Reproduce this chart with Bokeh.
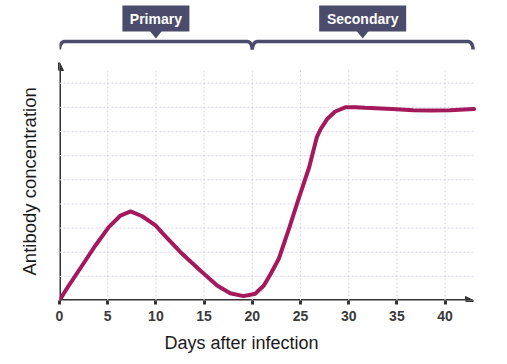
import numpy as np
from bokeh.plotting import figure
from bokeh.models import Range1d, LinearAxis, FixedTicker, Arrow, NormalHead, Grid, Title
from bokeh.embed import file_html
from bokeh.resources import INLINE
from bokeh.core.properties import value

# ---- data ----
days = [0, 0.96, 2.35, 3.73, 5.11, 6.33, 7.37, 8.58, 9.96, 10.8, 12.55, 14.6,
        16.35, 17.7, 19.1, 20.3, 21.2, 21.9, 22.75, 23.8, 24.8, 25.9, 26.7,
        27.1, 27.8, 28.6, 29.7, 30.7, 31.7, 34.5, 36.7, 38.5, 40.5, 43.0]
antibody = [0, 0.62, 1.45, 2.28, 3.04, 3.52, 3.69, 3.49, 3.11, 2.74, 2.0, 1.24,
            0.62, 0.30, 0.18, 0.28, 0.62, 1.1, 1.73, 2.97, 4.21, 5.52, 6.77,
            7.11, 7.53, 7.83, 8.01, 8.01, 7.98, 7.93, 7.88, 7.87, 7.88, 7.93]
x_ticks = [0, 5, 10, 15, 20, 25, 30, 35, 40]
y_grid = [1, 2, 3, 4, 5, 6, 7, 8, 9]
phase_names = ["Primary", "Secondary"]
phase_start = [0, 20]
phase_end = [20, 42.9]
x_title = "Days after infection"
y_title = "Antibody concentration"

# ---- layout constants (pixels) ----
W, H = 507, 364
BL = 59          # frame left
BASE = 300       # frame bottom (x axis)
PX_DAY = 9.64
PX_UNIT = 24.14
x_end = (W - BL) / PX_DAY
y_end = BASE / PX_UNIT


def ypx(py):
    """pixel row -> data y"""
    return (BASE - py) / PX_UNIT


def xpx(px):
    """pixel column -> data x"""
    return (px - BL) / PX_DAY


INK = "#333333"
SLATE = "#4b4b6b"
CURVE = "#a3195b"
GRID = "#d8d5e6"
FONT = "Liberation Sans"

p = figure(width=W, height=H, x_range=Range1d(0, x_end), y_range=Range1d(0, y_end),
           output_backend="svg", toolbar_location=None,
           x_axis_location=None, y_axis_location=None,
           min_border_left=BL, min_border_right=0, min_border_top=0,
           min_border_bottom=H - BASE)
p.outline_line_color = None
p.background_fill_color = "white"
for r in list(p.center):
    if isinstance(r, Grid):
        r.visible = False

# x axis: ticks and tick labels
xaxis = LinearAxis(ticker=FixedTicker(ticks=x_ticks), bounds=(0, 43),
                   axis_line_color=None, major_tick_out=4, major_tick_in=0,
                   major_tick_line_width=3, major_tick_line_color=INK,
                   minor_tick_line_color=None,
                   major_label_text_font=FONT, major_label_text_font_style="bold",
                   major_label_text_font_size="14px", major_label_text_color="#3a3a3a",
                   major_label_standoff=6)
p.add_layout(xaxis, "below")

# axis titles
p.add_layout(Title(text=x_title, align="left", offset=105, standoff=14,
                   text_font=FONT, text_font_size="18px", text_font_style="normal",
                   text_color="#1a1a1a"), "below")
p.add_layout(Title(text=y_title, align="left", offset=25, standoff=35,
                   vertical_align="top",
                   text_font=FONT, text_font_size="18.5px", text_font_style="normal",
                   text_color="#1a1a1a"), "left")

# dashed grid
p.segment(x0=x_ticks[1:], y0=0, x1=x_ticks[1:], y1=ypx(70),
          line_color=GRID, line_width=1, line_dash="2 2")
p.segment(x0=0, y0=y_grid, x1=xpx(473), y1=y_grid,
          line_color=GRID, line_width=1, line_dash="2 2")

# axis arrows
for xe, ye in [(xpx(473), 0), (0, ypx(62))]:
    p.add_layout(Arrow(x_start=0, y_start=0, x_end=xe, y_end=ye,
                       line_width=3, line_color=INK, level="underlay",
                       end=NormalHead(size=8, fill_color=INK, line_color=INK,
                                      line_width=1)))

# curve
p.line(days, antibody, line_color=CURVE, line_width=4, line_join="round",
       line_cap="round")

# bracket over the phases
y_top = ypx(41)
y_low = ypx(49)
rx = 5 / PX_DAY
ry = y_top - y_low
t1 = np.linspace(np.pi, np.pi / 2, 8)
t2 = np.linspace(np.pi / 2, 0, 8)
bxs, bys = [], []
for a, b in zip(phase_start, phase_end):
    xs = list(a + rx + rx * np.cos(t1)) + list(b - rx + rx * np.cos(t2))
    ys = list(y_low + ry * np.sin(t1)) + list(y_low + ry * np.sin(t2))
    bxs.append(xs)
    bys.append(ys)
p.multi_line(xs=bxs, ys=bys, line_color=SLATE, line_width=3.5, line_join="round")

# label boxes with pointers
mids = [(a + b) / 2 for a, b in zip(phase_start, phase_end)]
box_w = [67, 87]
box_h = 26
box_cy = ypx(18)
p.rect(x=mids, y=box_cy, width=box_w, height=box_h, width_units="screen",
       height_units="screen", fill_color=SLATE, line_color=None)
yb = ypx(30.5)
yt = ypx(38)
hw = 6 / PX_DAY
p.patches(xs=[[m - hw, m + hw, m] for m in mids], ys=[[yb, yb, yt] for _ in mids],
          fill_color=SLATE, line_color=None)
p.text(x=mids, y=box_cy, text=phase_names, text_align="center",
       text_baseline="middle", text_font=value(FONT), text_font_style="bold",
       text_font_size="14px", text_color="white")

open("out.html", "w").write(file_html(p, INLINE))
